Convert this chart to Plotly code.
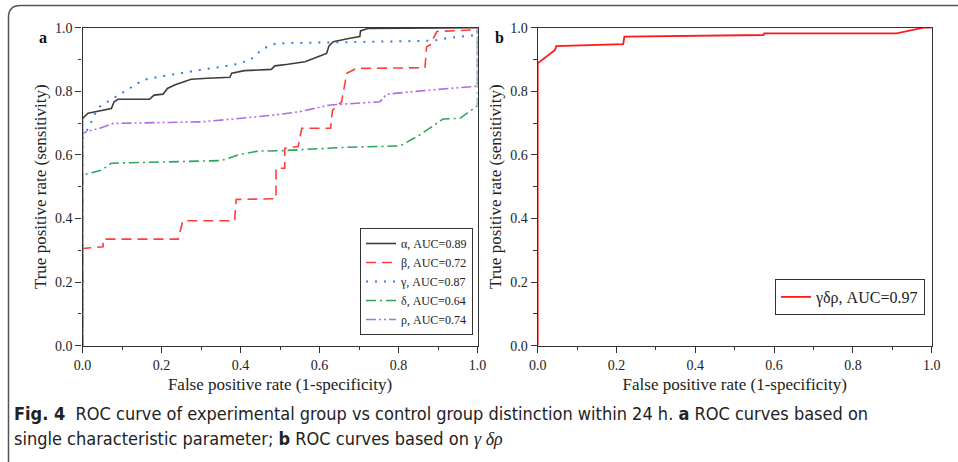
import plotly.graph_objects as go

# ---------------- data ----------------
alpha_x = [0, 0, 0.014, 0.06, 0.073, 0.08, 0.09, 0.170, 0.181, 0.204, 0.215, 0.233, 0.257, 0.275, 0.317, 0.373,
           0.378, 0.41, 0.478, 0.487, 0.52, 0.563, 0.601, 0.618, 0.624, 0.635, 0.677, 0.702, 0.704, 0.724, 1.0]
alpha_y = [0, 0.715, 0.731, 0.741, 0.746, 0.767, 0.775, 0.775, 0.788, 0.791, 0.809, 0.820, 0.830, 0.838, 0.841, 0.844,
           0.857, 0.865, 0.869, 0.880, 0.885, 0.893, 0.911, 0.919, 0.943, 0.956, 0.967, 0.972, 0.99, 0.998, 1.0]

beta_x = [0, 0, 0.052, 0.052, 0.242, 0.254, 0.385, 0.389, 0.483, 0.49, 0.49, 0.512, 0.512, 0.546, 0.555, 0.628,
          0.633, 0.656, 0.669, 0.694, 0.867, 0.871, 0.88, 0.897, 0.989, 1.0]
beta_y = [0, 0.306, 0.311, 0.335, 0.335, 0.393, 0.393, 0.460, 0.462, 0.462, 0.558, 0.558, 0.621, 0.626, 0.684, 0.684,
          0.741, 0.767, 0.857, 0.872, 0.874, 0.940, 0.946, 0.988, 0.993, 1.0]

gamma_x = [0, 0, 0.019, 0.032, 0.044, 0.078, 0.112, 0.154, 0.196, 0.247, 0.297, 0.382, 0.424, 0.458, 0.492,
           0.888, 0.922, 0.998, 1.0, 1.0]
gamma_y = [0, 0.652, 0.694, 0.731, 0.752, 0.778, 0.804, 0.836, 0.846, 0.857, 0.867, 0.883, 0.898, 0.935, 0.951,
           0.959, 0.967, 0.977, 0.978, 1.0]

delta_x = [0, 0, 0.048, 0.073, 0.351, 0.394, 0.444, 0.5, 0.669, 0.804, 0.854, 0.913, 0.956, 0.994, 1.0, 1.0]
delta_y = [0, 0.537, 0.552, 0.574, 0.582, 0.600, 0.612, 0.613, 0.624, 0.628, 0.663, 0.713, 0.715, 0.750, 0.755, 1.0]

rho_x = [0, 0, 0.019, 0.044, 0.078, 0.3, 0.382, 0.483, 0.55, 0.627, 0.753, 0.77, 0.88, 0.998, 1.0, 1.0]
rho_y = [0, 0.668, 0.676, 0.684, 0.699, 0.704, 0.713, 0.725, 0.736, 0.757, 0.767, 0.791, 0.804, 0.815, 0.816, 1.0]

comb_x = [0, 0, 0.044, 0.047, 0.217, 0.22, 0.573, 0.575, 0.911, 0.979, 1.0]
comb_y = [0, 0.888, 0.930, 0.942, 0.948, 0.972, 0.977, 0.982, 0.982, 1.0, 1.0]

names_a = ["α, AUC=0.89", "β, AUC=0.72", "γ, AUC=0.87", "δ, AUC=0.64", "ρ, AUC=0.74"]
name_b = "γδρ, AUC=0.97"
tick_vals = [0, 0.2, 0.4, 0.6, 0.8, 1.0]
tick_text = ["0.0", "0.2", "0.4", "0.6", "0.8", "1.0"]

# ---------------- figure ----------------
W, H = 958, 462
SERIF = "Liberation Serif, Times New Roman, serif"

fig = go.Figure()

styles = [
    ("#3d3d3d", "solid", 1.6),
    ("#ff3c3c", "10px,6px", 1.6),
    ("#2b7de9", "2px,7px", 2.0),
    ("#2ea35c", "10px,4px,2px,4px", 1.6),
    ("#b06ce6", "10px,3px,2px,3px,2px,3px", 1.6),
]
series = [(alpha_x, alpha_y), (beta_x, beta_y), (gamma_x, gamma_y), (delta_x, delta_y), (rho_x, rho_y)]
for (xs, ys), nm, (col, dash, w) in zip(series, names_a, styles):
    fig.add_trace(go.Scatter(x=xs, y=ys, mode="lines", name=nm,
                             line=dict(color=col, dash=dash, width=w),
                             xaxis="x", yaxis="y", legend="legend"))

fig.add_trace(go.Scatter(x=comb_x, y=comb_y, mode="lines", name=name_b,
                         line=dict(color="#ff1a1a", width=1.8),
                         xaxis="x2", yaxis="y2", legend="legend2"))

def px_x(p):
    return p / W

def px_y(p):
    return 1 - p / H

axis_common = dict(
    range=[0, 1], tickvals=tick_vals, ticktext=tick_text,
    showline=True, linecolor="#333", linewidth=1.3, mirror=True,
    ticks="outside", ticklen=6, tickwidth=1.2, tickcolor="#333",
    minor=dict(tickvals=[0.1, 0.3, 0.5, 0.7, 0.9], ticks="outside", ticklen=3.5, tickwidth=1, tickcolor="#333"),
    showgrid=False, zeroline=False, automargin=False,
    tickfont=dict(family=SERIF, size=14, color="#222"),
    fixedrange=True,
)

xa = [px_x(82.5), px_x(477.5)]
xb = [px_x(537.7), px_x(931.7)]
yd = [px_y(345.7), px_y(27.7)]

xt = dict(text="False positive rate (1-specificity)", font=dict(family=SERIF, size=17, color="#222"), standoff=6)
yt = dict(text="True positive rate (sensitivity)", font=dict(family=SERIF, size=17, color="#222"), standoff=4)

fig.update_layout(
    width=W, height=H,
    margin=dict(l=0, r=0, t=0, b=0, pad=0, autoexpand=False),
    paper_bgcolor="white", plot_bgcolor="white",
    xaxis=dict(domain=xa, anchor="y", title=xt, **axis_common),
    yaxis=dict(domain=yd, anchor="x", title=yt, **axis_common),
    xaxis2=dict(domain=xb, anchor="y2", title=xt, **axis_common),
    yaxis2=dict(domain=yd, anchor="x2", title=yt, **axis_common),
    showlegend=True,
    legend=dict(x=px_x(360), y=px_y(335), xanchor="left", yanchor="bottom",
                bgcolor="white", bordercolor="#333", borderwidth=1,
                font=dict(family=SERIF, size=12, color="#222"),
                tracegroupgap=0, itemwidth=30),
    legend2=dict(x=px_x(775), y=px_y(279), xanchor="left", yanchor="top",
                 bgcolor="white", bordercolor="#333", borderwidth=1,
                 font=dict(family=SERIF, size=16, color="#222"),
                 itemwidth=30),
)

# panel letters
fig.add_annotation(x=px_x(43), y=px_y(38), xref="paper", yref="paper", xanchor="center", yanchor="middle",
                   text="<b>a</b>", showarrow=False, font=dict(family=SERIF, size=16, color="#111"))
fig.add_annotation(x=px_x(499), y=px_y(38), xref="paper", yref="paper", xanchor="center", yanchor="middle",
                   text="<b>b</b>", showarrow=False, font=dict(family=SERIF, size=16, color="#111"))

# caption
CAP = "Liberation Sans Narrow, Arial Narrow, DejaVu Sans Condensed, sans-serif"
fig.add_annotation(x=px_x(12), y=px_y(413), xref="paper", yref="paper", xanchor="left", yanchor="middle",
                   showarrow=False, align="left",
                   text="<b>Fig. 4</b>  ROC curve of experimental group vs control group distinction within 24 h. "
                        "<b>a</b> ROC curves based on",
                   font=dict(family=CAP, size=18, color="#222"))
fig.add_annotation(x=px_x(12), y=px_y(438), xref="paper", yref="paper", xanchor="left", yanchor="middle",
                   showarrow=False, align="left",
                   text="single characteristic parameter; <b>b</b> ROC curves based on "
                        "<span style=\"font-family:Liberation Serif\"><i>γ δρ</i></span>",
                   font=dict(family=CAP, size=18, color="#222"))

# rounded frame
x0, y0, x1, y1, r = px_x(8.5), px_y(5.5), px_x(990), px_y(475), 12
rx, ry = r / W, r / H
path = (f"M {x0+rx},{y0} L {x1},{y0} L {x1},{y1} L {x0+rx},{y1} "
        f"Q {x0},{y1} {x0},{y1+ry} L {x0},{y0-ry} Q {x0},{y0} {x0+rx},{y0} Z")
fig.add_shape(type="path", path=path, xref="paper", yref="paper",
              line=dict(color="#555", width=1.5), fillcolor="rgba(0,0,0,0)", layer="below")

# remove the default page margin so the figure fills the window exactly
fig.write_html("out.html", config={"displayModeBar": False},
               post_script="document.body.style.margin='0';")
